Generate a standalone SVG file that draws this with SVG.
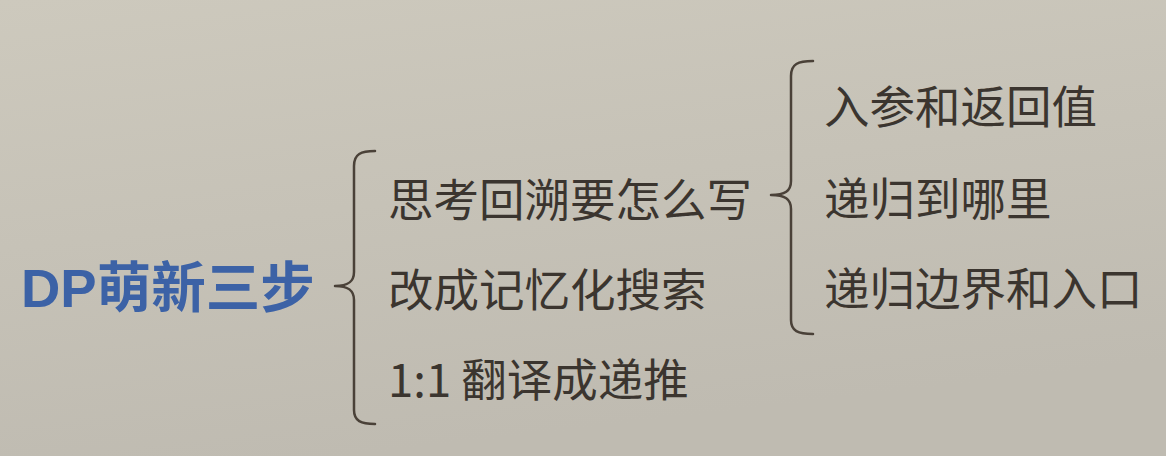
<svg xmlns="http://www.w3.org/2000/svg" width="1166" height="456" viewBox="0 0 1166 456">
<defs>
<linearGradient id="bg" x1="0" y1="0" x2="0.3" y2="1">
<stop offset="0" stop-color="#cdc9bd"/>
<stop offset="1" stop-color="#bfbbb1"/>
</linearGradient>
<style>
.t{font-family:"Noto Sans CJK SC","Liberation Sans",sans-serif;font-size:45.5px;fill:#3b352f}
.title{font-family:"Liberation Sans","Noto Sans CJK SC",sans-serif;font-size:54.5px;font-weight:bold;fill:#3c62a6}
.brace{fill:none;stroke:#4a4138;stroke-width:2.5;stroke-linecap:round;stroke-linejoin:round}
</style>
</defs>
<rect width="1166" height="456" fill="url(#bg)"/>
<g id="connectors">
<path class="brace" d="M375,151 C361,151 354,154 354,166 L354,272 C354,282 348,286 335,286 C348,286 354,290 354,300 L354,410 C354,421 361,424 375,424"/>
<path class="brace" d="M813,61 C798,61 791,64 791,76 L791,181 C791,191 785,195 771,195 C785,195 791,199 791,209 L791,320 C791,331 798,334 813,334"/>
</g>
<g id="root"><text class="title" x="21" y="307">DP萌新三步</text></g>
<g id="step1"><text class="t" x="388" y="217">思考回溯要怎么写</text></g>
<g id="step2"><text class="t" x="388" y="307">改成记忆化搜索</text></g>
<g id="step3"><text class="t" x="388" y="397">1:1 翻译成递推</text></g>
<g id="sub1"><text class="t" x="824" y="124">入参和返回值</text></g>
<g id="sub2"><text class="t" x="824" y="216">递归到哪里</text></g>
<g id="sub3"><text class="t" x="824" y="306">递归边界和入口</text></g>
</svg>
